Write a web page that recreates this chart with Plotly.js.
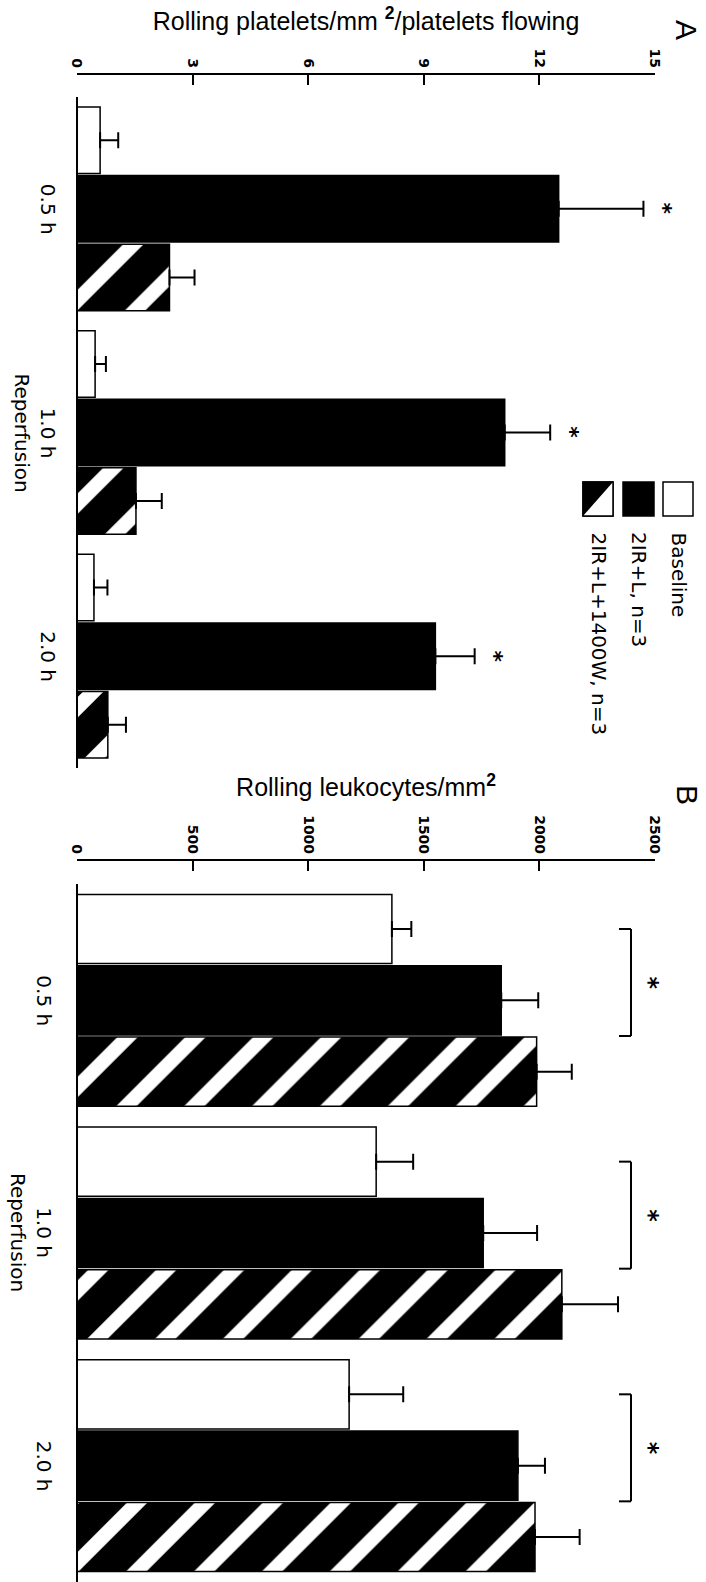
<!DOCTYPE html>
<html><head><meta charset="utf-8">
<script src="https://cdn.plot.ly/plotly-3.0.1.min.js"></script>
<style>html,body{margin:0;padding:0;background:#fff}#chart{width:706px;height:1582px}</style>
</head><body><div id="chart"></div>
<script>
// ---------- data ----------
const categories = ['0.5 h', '1.0 h', '2.0 h'];
const categoryLabels = ['0.5 h', '1.0 h<br>Reperfusion', '2.0 h'];
const seriesNames = ['Baseline', '2IR+L, n=3', '2IR+L+1400W, n=3'];
const plateletTicks = [0, 3, 6, 9, 12, 15];
const leukocyteTicks = [0, 500, 1000, 1500, 2000, 2500];

const plateletBaseline = [0.60, 0.47, 0.44];
const plateletBaselineErr = [0.47, 0.28, 0.35];
const plateletIRL = [12.5, 11.1, 9.3];
const plateletIRLErr = [2.2, 1.18, 1.02];
const plateletNOS = [2.4, 1.53, 0.80];
const plateletNOSErr = [0.65, 0.67, 0.47];

const leukBaseline = [1362, 1294, 1177];
const leukBaselineErr = [84, 160, 234];
const leukIRL = [1835, 1757, 1907];
const leukIRLErr = [160, 233, 117];
const leukNOS = [1988, 2097, 1981];
const leukNOSErr = [152, 243, 193];

const plateletSignificant = [true, true, true];
const leukocyteSignificant = [true, true, true];

// ---------- layout helpers ----------
const W = 706, H = 1582, ML = 77, MR = 51;
const fx = px => (px - ML) / (W - ML - MR);
const fy = py => 1 - py / H;
const BARGAP = 0.08;
const slot = (1 - BARGAP) / 3;

const styles = [
  {color: 'white', line: {color: 'black', width: 1.5}},
  {color: 'black', line: {color: 'black', width: 1.5}},
  {color: 'black', line: {color: 'black', width: 1.5},
   pattern: {shape: '/', fgcolor: 'white', fgopacity: 1, bgcolor: 'black', size: 48, solidity: 0.3, fillmode: 'overlay'}}
];

function bars(vals, errs, idx, xa, ya) {
  return {
    type: 'bar', orientation: 'h', name: seriesNames[idx],
    y: categories, x: vals, xaxis: xa, yaxis: ya,
    marker: styles[idx], showlegend: false, hoverinfo: 'skip',
    error_x: {type: 'data', symmetric: false, array: errs, arrayminus: errs.map(() => 0),
              color: 'black', thickness: 2, width: 8}
  };
}

const data = [
  bars(plateletBaseline, plateletBaselineErr, 0, 'x', 'y'),
  bars(plateletIRL, plateletIRLErr, 1, 'x', 'y'),
  bars(plateletNOS, plateletNOSErr, 2, 'x', 'y'),
  bars(leukBaseline, leukBaselineErr, 0, 'x2', 'y2'),
  bars(leukIRL, leukIRLErr, 1, 'x2', 'y2'),
  bars(leukNOS, leukNOSErr, 2, 'x2', 'y2')
];

const tickFont = {family: 'DejaVu Sans', size: 14, color: 'black', weight: 'bold'};
const titleFont = {family: 'Liberation Sans', size: 25, color: 'black'};

function valueAxis(range, ticks, pos, title) {
  return {
    domain: [0, 1], anchor: 'free', position: pos, side: 'top',
    range: range, tickvals: ticks, ticktext: ticks.map(String),
    ticks: 'inside', ticklen: 10, tickwidth: 2, tickcolor: 'black',
    showline: true, linewidth: 2, linecolor: 'black',
    showgrid: false, zeroline: false, tickangle: 90, tickfont: tickFont,
    title: {text: title, font: titleFont, standoff: 10}, fixedrange: true
  };
}
function catAxis(dom) {
  return {
    domain: dom, anchor: 'free', position: 0, type: 'category',
    categoryorder: 'array', categoryarray: categories, range: [2.5, -0.5],
    showline: true, linewidth: 2, linecolor: 'black', ticks: '',
    showticklabels: false, showgrid: false, zeroline: false, fixedrange: true
  };
}

const annotations = [];
const shapes = [];
const catFont = {family: 'DejaVu Sans', size: 20, color: 'black'};

// category labels
categories.forEach((c, i) => {
  annotations.push({xref: 'paper', yref: 'y', x: fx(62), y: c, text: categoryLabels[i],
    textangle: 90, xanchor: 'right', yanchor: 'middle', showarrow: false, font: catFont});
  annotations.push({xref: 'paper', yref: 'y2', x: fx(58), y: c, text: categoryLabels[i],
    textangle: 90, xanchor: 'right', yanchor: 'middle', showarrow: false, font: catFont});
});

// panel A asterisks
categories.forEach((c, i) => {
  if (!plateletSignificant[i]) return;
  annotations.push({xref: 'x', yref: 'y', x: plateletIRL[i] + plateletIRLErr[i], y: c,
    text: '*', textangle: 90, xanchor: 'center', yanchor: 'middle', xshift: 20,
    showarrow: false, font: {family: 'DejaVu Sans', size: 22, color: 'black', weight: 'bold'}});
});

// panel B brackets
categories.forEach((c, i) => {
  if (!leukocyteSignificant[i]) return;
  const y0 = i - slot, y1 = i + slot / 2;
  const ln = {color: 'black', width: 2};
  shapes.push({type: 'line', xref: 'paper', yref: 'y2', x0: fx(631), x1: fx(631), y0: y0, y1: y1, line: ln});
  shapes.push({type: 'line', xref: 'paper', yref: 'y2', x0: fx(619), x1: fx(631), y0: y0, y1: y0, line: ln});
  shapes.push({type: 'line', xref: 'paper', yref: 'y2', x0: fx(619), x1: fx(631), y0: y1, y1: y1, line: ln});
  annotations.push({xref: 'paper', yref: 'y2', x: fx(649), y: (y0 + y1) / 2, text: '*',
    textangle: 90, xanchor: 'center', yanchor: 'middle', showarrow: false,
    font: {family: 'DejaVu Sans', size: 24, color: 'black', weight: 'bold'}});
});

// legend (drawn rotated)
const legendBoxes = [[663, 693], [623, 654], [583, 613]];
legendBoxes.forEach((b, k) => {
  shapes.push({type: 'rect', xref: 'paper', yref: 'paper', x0: fx(b[0]), x1: fx(b[1]),
    y0: fy(516), y1: fy(482), fillcolor: k === 0 ? 'white' : 'black', line: {color: 'black', width: 1.5}});
  annotations.push({xref: 'paper', yref: 'paper', x: fx((b[0] + b[1]) / 2), y: fy(530),
    text: seriesNames[k], textangle: 90, xanchor: 'center', yanchor: 'top', showarrow: false,
    font: {family: 'DejaVu Sans', size: 20, color: 'black'}});
});
// hatched swatch: white triangle
shapes.push({type: 'path', xref: 'paper', yref: 'paper',
  path: `M ${fx(613)},${fy(482)} L ${fx(613)},${fy(516)} L ${fx(583)},${fy(516)} Z`,
  fillcolor: 'white', line: {width: 0}});
shapes.push({type: 'rect', xref: 'paper', yref: 'paper', x0: fx(583), x1: fx(613),
  y0: fy(516), y1: fy(482), fillcolor: 'rgba(0,0,0,0)', line: {color: 'black', width: 1.5}});

// panel letters
annotations.push({xref: 'paper', yref: 'paper', x: fx(686), y: fy(30), text: 'A', textangle: 90,
  xanchor: 'center', yanchor: 'middle', showarrow: false, font: {family: 'Liberation Sans', size: 30, color: 'black'}});
annotations.push({xref: 'paper', yref: 'paper', x: fx(688), y: fy(795), text: 'B', textangle: 90,
  xanchor: 'center', yanchor: 'middle', showarrow: false, font: {family: 'Liberation Sans', size: 30, color: 'black'}});

const layout = {
  width: W, height: H,
  margin: {l: ML, r: MR, t: 0, b: 0, autoexpand: false},
  paper_bgcolor: 'white', plot_bgcolor: 'white',
  barmode: 'group', bargap: BARGAP, bargroupgap: 0.03,
  showlegend: false,
  xaxis: valueAxis([0, 15], plateletTicks, fy(74), 'Rolling platelets/mm <sup><b>2</b></sup>/platelets flowing'),
  yaxis: catAxis([fy(768), fy(97)]),
  xaxis2: valueAxis([0, 2500], leukocyteTicks, fy(860), 'Rolling leukocytes/mm<sup><b>2</b></sup>'),
  yaxis2: catAxis([0, fy(884)]),
  annotations: annotations, shapes: shapes
};

Plotly.newPlot('chart', data, layout, {displayModeBar: false, staticPlot: true});
</script></body></html>
